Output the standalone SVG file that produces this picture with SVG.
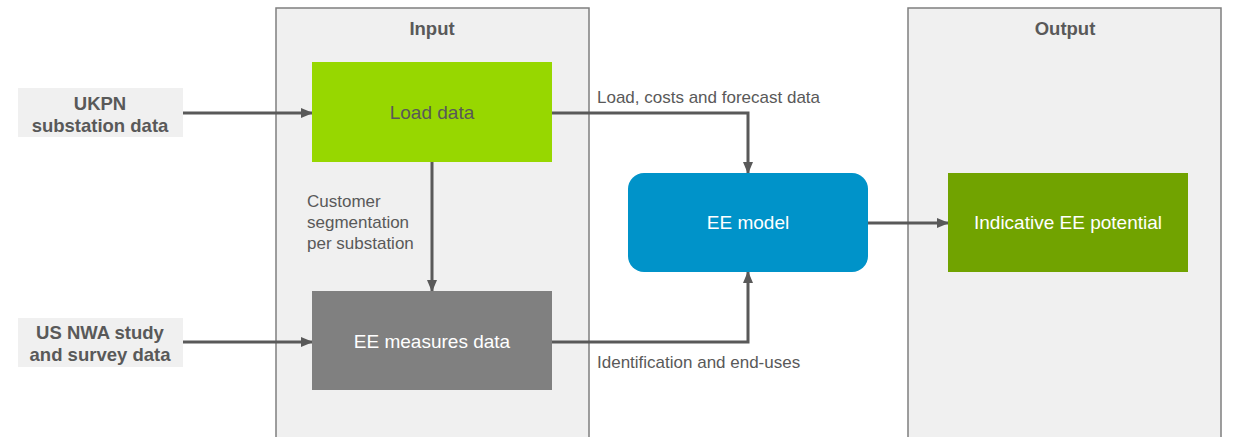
<svg xmlns="http://www.w3.org/2000/svg" width="1233" height="437" viewBox="0 0 1233 437">
  <style>
    .panel { fill: #f0f0f0; stroke: #7f7f7f; stroke-width: 1.5; }
    .src { fill: #f0f0f0; }
    .t { font-family: "Liberation Sans", Arial, sans-serif; text-anchor: middle; }
    .head { font-size: 18.5px; font-weight: bold; fill: #595959; }
    .box { font-size: 19px; }
    .lbl { font-family: "Liberation Sans", Arial, sans-serif; font-size: 17px; fill: #595959; }
    .wire { fill: none; stroke: #595959; stroke-width: 3; marker-end: url(#arrow); }
  </style>
  <defs>
    <marker id="arrow" markerUnits="userSpaceOnUse" markerWidth="12" markerHeight="10" refX="11" refY="5" orient="auto">
      <path d="M0,0 L12,5 L0,10 z" fill="#595959"/>
    </marker>
  </defs>
  <rect width="1233" height="437" fill="#ffffff"/>

  <!-- panels -->
  <g id="input-panel">
    <rect class="panel" x="276" y="8" width="313" height="440"/>
    <text class="t head" x="432" y="35">Input</text>
  </g>
  <g id="output-panel">
    <rect class="panel" x="908" y="8" width="313" height="440"/>
    <text class="t head" x="1065" y="35">Output</text>
  </g>

  <!-- connectors -->
  <g id="connectors">
    <path class="wire" d="M183,113 H312"/>
    <path class="wire" d="M183,342 H312"/>
    <path class="wire" d="M432,162 V291"/>
    <path class="wire" d="M552,113 H748 V173"/>
    <path class="wire" d="M552,342 H748 V272"/>
    <path class="wire" d="M868,223 H948"/>
    <text class="lbl" x="597" y="103">Load, costs and forecast data</text>
    <text class="lbl" x="307" y="207">Customer</text>
    <text class="lbl" x="307" y="228">segmentation</text>
    <text class="lbl" x="307" y="249">per substation</text>
    <text class="lbl" x="597" y="368">Identification and end-uses</text>
  </g>

  <!-- nodes -->
  <g id="ukpn">
    <rect class="src" x="18" y="88" width="165" height="49"/>
    <text class="t head" x="100" y="110">UKPN</text>
    <text class="t head" x="100" y="132">substation data</text>
  </g>
  <g id="us-nwa">
    <rect class="src" x="18" y="318" width="165" height="49"/>
    <text class="t head" x="100" y="339">US NWA study</text>
    <text class="t head" x="100" y="361">and survey data</text>
  </g>
  <g id="load-data">
    <rect x="312" y="62" width="240" height="100" fill="#97d700"/>
    <text class="t box" x="432" y="119" fill="#595959">Load data</text>
  </g>
  <g id="ee-measures">
    <rect x="312" y="291" width="240" height="99" fill="#808080"/>
    <text class="t box" x="432" y="348" fill="#ffffff">EE measures data</text>
  </g>
  <g id="ee-model">
    <rect x="628" y="173" width="240" height="99" rx="16" fill="#0093c9"/>
    <text class="t box" x="748" y="229" fill="#ffffff">EE model</text>
  </g>
  <g id="ee-potential">
    <rect x="948" y="173" width="240" height="99" fill="#71a300"/>
    <text class="t box" x="1068" y="229" fill="#ffffff">Indicative EE potential</text>
  </g>
</svg>
